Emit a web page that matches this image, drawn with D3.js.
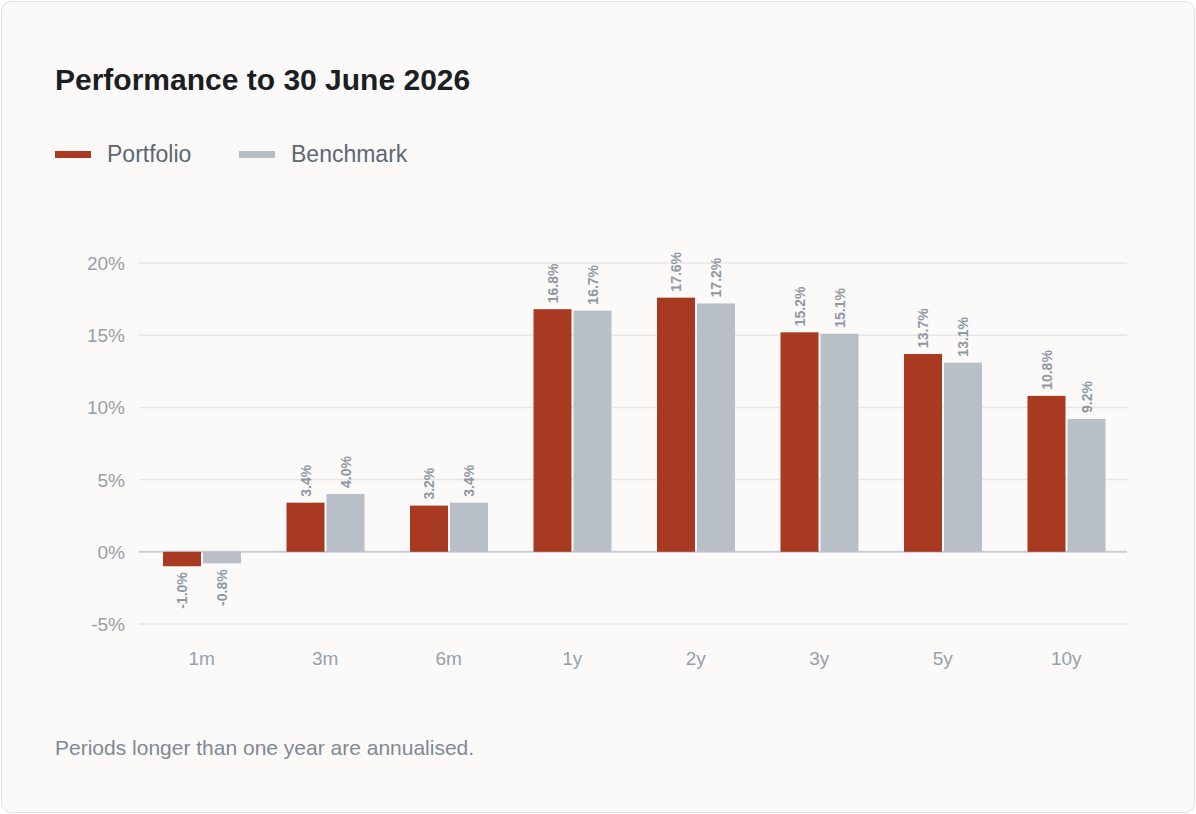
<!DOCTYPE html>
<html>
<head>
<meta charset="utf-8">
<script src="https://cdn.jsdelivr.net/npm/d3@7"></script>
<style>
  body { margin: 0; background: #ffffff; font-family: "Liberation Sans", Arial, sans-serif; }
  #card { position: absolute; left: 1px; top: 1px; width: 1192px; height: 810px;
          border: 1px solid #e2e2e2; border-radius: 10px; background: #fbfaf8; }
</style>
</head>
<body>
<div id="card"></div>
<script>
// chart data
const periods = ['1m', '3m', '6m', '1y', '2y', '3y', '5y', '10y'];
const portfolio = [-1.0, 3.4, 3.2, 16.8, 17.6, 15.2, 13.7, 10.8];
const benchmark = [-0.8, 4.0, 3.4, 16.7, 17.2, 15.1, 13.1, 9.2];
const yTicks = [-5, 0, 5, 10, 15, 20];
const seriesNames = ['Portfolio', 'Benchmark'];
const colors = ['#a93a22', '#b8bfc7'];

const width = 1196, height = 814;
const svg = d3.select("#card").append("svg")
  .attr("width", 1194).attr("height", 812)
  .style("position", "absolute").style("left", "-1px").style("top", "-1px");

// title
svg.append("text").attr("x", 54).attr("y", 89)
  .attr("font-size", 30).attr("font-weight", "bold").attr("fill", "#1b1f24")
  .text("Performance to 30 June 2026");

// legend
const legendX = [54, 238];
seriesNames.forEach((s, i) => {
  svg.append("rect").attr("x", legendX[i]).attr("y", 150).attr("width", 36).attr("height", 7)
    .attr("fill", colors[i]);
  svg.append("text").attr("x", legendX[i] + 52).attr("y", 161)
    .attr("font-size", 23).attr("fill", "#5d6874").text(s);
});

// scales
const y = d3.scaleLinear().domain([-5, 20]).range([623, 262]);
const x = d3.scaleBand().domain(periods).range([138, 1126]).padding(0);
const inner = d3.scaleBand().domain([0, 1]).range([24, 24 + 78]).paddingInner(0.05);

// grid
svg.append("g").selectAll("line").data(yTicks).join("line")
  .attr("x1", 138).attr("x2", 1126)
  .attr("y1", d => y(d)).attr("y2", d => y(d))
  .attr("stroke", d => d === 0 ? "#c9cdd8" : "#e6e6e6")
  .attr("stroke-width", d => d === 0 ? 2 : 1.5);

svg.append("g").selectAll("text").data(yTicks).join("text")
  .attr("x", 124).attr("y", d => y(d) + 7)
  .attr("text-anchor", "end").attr("font-size", 19).attr("fill", "#97a0aa")
  .text(d => d + "%");

// x labels
svg.append("g").selectAll("text").data(periods).join("text")
  .attr("x", d => x(d) + x.bandwidth() / 2 + 1).attr("y", 664)
  .attr("text-anchor", "middle").attr("font-size", 19).attr("fill", "#97a0aa")
  .text(d => d);

// bars
const rows = [];
periods.forEach((p, i) => {
  rows.push({p, s: 0, v: portfolio[i]});
  rows.push({p, s: 1, v: benchmark[i]});
});

svg.append("g").selectAll("rect").data(rows).join("rect")
  .attr("x", d => x(d.p) + inner(d.s))
  .attr("y", d => y(Math.max(0, d.v)))
  .attr("width", inner.bandwidth())
  .attr("height", d => Math.abs(y(d.v) - y(0)))
  .attr("fill", d => colors[d.s]);

// value labels (rotated)
svg.append("g").selectAll("text").data(rows).join("text")
  .attr("transform", d => {
    const cx = x(d.p) + inner(d.s) + inner.bandwidth() / 2 + 5;
    const cy = d.v >= 0 ? y(d.v) - 6 : y(d.v) + 6;
    return `translate(${cx},${cy}) rotate(-90)`;
  })
  .attr("text-anchor", d => d.v >= 0 ? "start" : "end")
  .attr("font-size", 14).attr("font-weight", "bold").attr("fill", "#8f98a3")
  .text(d => d.v.toFixed(1) + "%");

// footnote
svg.append("text").attr("x", 54).attr("y", 754)
  .attr("font-size", 21).attr("fill", "#7f8994")
  .text("Periods longer than one year are annualised.");
</script>
</body>
</html>
